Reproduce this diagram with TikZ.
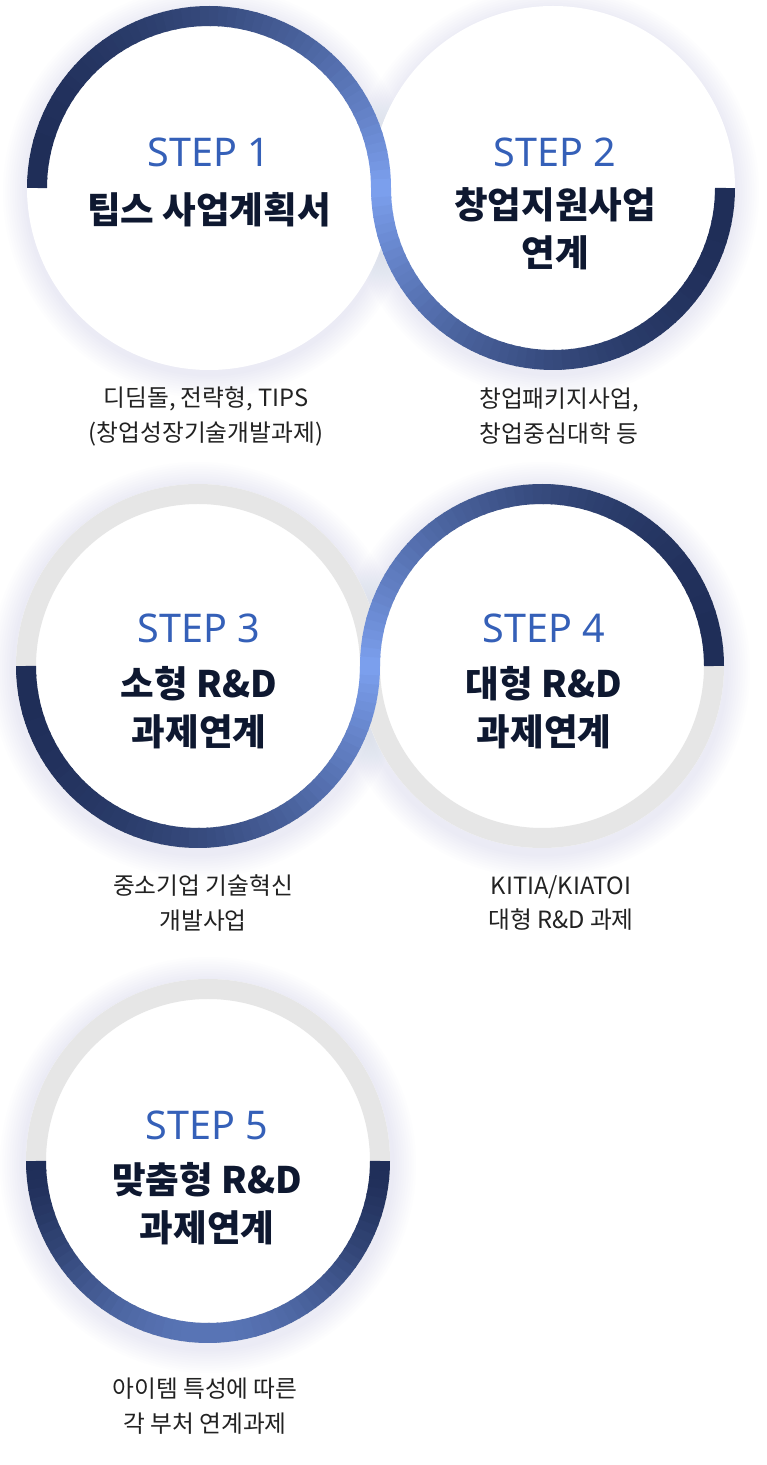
\documentclass[tikz,border=0pt]{standalone}
\usepackage{fontspec}
\setmainfont{Noto Sans CJK KR}
\newfontfamily\stepfont{Noto Sans}
\usetikzlibrary{calc}
\definecolor{ringD} {RGB}{31,  46,  88}
\definecolor{ringL} {RGB}{125, 161, 240}
\definecolor{ringG} {RGB}{230, 230, 230}
\definecolor{stepC} {RGB}{53,  96, 184}
\definecolor{ttlC}  {RGB}{14,  24,  48}
\definecolor{dscC}  {RGB}{34,  34,  34}
\definecolor{glowC} {RGB}{185, 194, 235}
\tikzset{
  ring/.style  = {line width=0.4cm, line cap=butt},
  gring/.style = {line width=0.4cm, color=ringG},
  disk/.style  = {fill=white},
  stepT/.style = {font=\stepfont\fontsize{22.5}{27}\selectfont, text=stepC},
  ttlT/.style  = {font=\bfseries\fontsize{20.8}{27.3}\selectfont, text=ttlC,
                  align=center},
  dscT/.style  = {font=\fontsize{13.5}{19.9}\selectfont, text=dscC,
                  align=center},
}
% gradient arc: center, radius, start, end, light-% as a function of \segS
\newcommand{\ringarc}[5]{%
  \foreach \k in {0,...,59}{
    \pgfmathsetmacro{\segS}{(\k+0.5)/60}
    \pgfmathtruncatemacro{\segP}{#5}
    \pgfmathsetmacro{\segA}{#3+(#4-#3)*\k/60}
    \pgfmathsetmacro{\segB}{#3+(#4-#3)*min(\k+1.2,60)/60}
    \colorlet{segC}{ringL!\segP!ringD}
    \draw[ring, segC] (#1) ++(\segA:#2)
      arc[start angle=\segA, end angle=\segB, radius=#2];
  }}
% soft glow behind a disk
\newcommand{\glow}[2]{%
  \foreach \k in {1,...,10}
    \fill[glowC, opacity=0.022] ($(#1)+(0,-4)$) circle ({#2+\k*2.4});
}
\begin{document}
\begin{tikzpicture}[x=0.02cm, y=0.02cm]

\def\rRing{172}  % ring radius (px)
\def\rDisk{182}  % disk radius (px)

\fill[white] (0,0) rectangle (767,1465);
\useasboundingbox (0,0) rectangle (767,1465);

\coordinate (c1) at (209,1277);
\coordinate (c2) at ({209+2*\rRing},1277);
\coordinate (c3) at (198,799);
\coordinate (c4) at ({198+2*\rRing},799);
\coordinate (c5) at (208,304);

% ============================================================
%  Row 1: STEP 1 / STEP 2
% ============================================================
\glow{c1}{\rDisk}
\glow{c2}{\rDisk}
\fill[disk] (c1) circle (\rDisk);
\fill[disk] (c2) circle (\rDisk);
\ringarc{c1}{\rRing}{180}{0}{100*\segS^2}
\ringarc{c2}{\rRing}{180}{360}{100*(1-\segS)^2}

\node[stepT] (s1) at (209,1313) {STEP 1};
\node[ttlT]  (t1) at (209,1255) {팁스 사업계획서};
\node[dscT]  (d1) at (206,1049) {디딤돌, 전략형, TIPS\\(창업성장기술개발과제)};

\node[stepT] (s2) at (555,1313) {STEP 2};
\node[ttlT]  (t2) at (555,1236) {창업지원사업\\연계};
\node[dscT]  (d2) at (559,1049) {창업패키지사업,\\창업중심대학 등};

% ============================================================
%  Row 2: STEP 3 / STEP 4
% ============================================================
\glow{c3}{\rDisk+2}
\glow{c4}{\rDisk+2}
\fill[disk] (c3) circle (\rDisk);
\fill[disk] (c4) circle (\rDisk);
\draw[gring] (c3) circle (\rRing);
\draw[gring] (c4) circle (\rRing);
\ringarc{c3}{\rRing}{180}{360}{100*\segS^2}
\ringarc{c4}{\rRing}{180}{0}{100*(1-\segS)^2}

\node[stepT] (s3) at (199,837) {STEP 3};
\node[ttlT]  (t3) at (199,757) {소형 R\&D\\과제연계};
\node[dscT]  (d3) at (203,562) {중소기업 기술혁신\\개발사업};

\node[stepT] (s4) at (544,837) {STEP 4};
\node[ttlT]  (t4) at (544,757) {대형 R\&D\\과제연계};
\node[dscT]  (d4) at (561,562) {KITIA/KIATOI\\대형 R\&D 과제};

% ============================================================
%  Row 3: STEP 5
% ============================================================
\glow{c5}{\rDisk+2}
\fill[disk] (c5) circle (\rDisk);
\draw[gring] (c5) circle (\rRing);
\ringarc{c5}{\rRing}{180}{360}{62*sin(180*\segS)^1.6}

\node[stepT] (s5) at (207,340) {STEP 5};
\node[ttlT]  (t5) at (207,261) {맞춤형 R\&D\\과제연계};
\node[dscT]  (d5) at (205,59)  {아이템 특성에 따른\\각 부처 연계과제};

\end{tikzpicture}
\end{document}
